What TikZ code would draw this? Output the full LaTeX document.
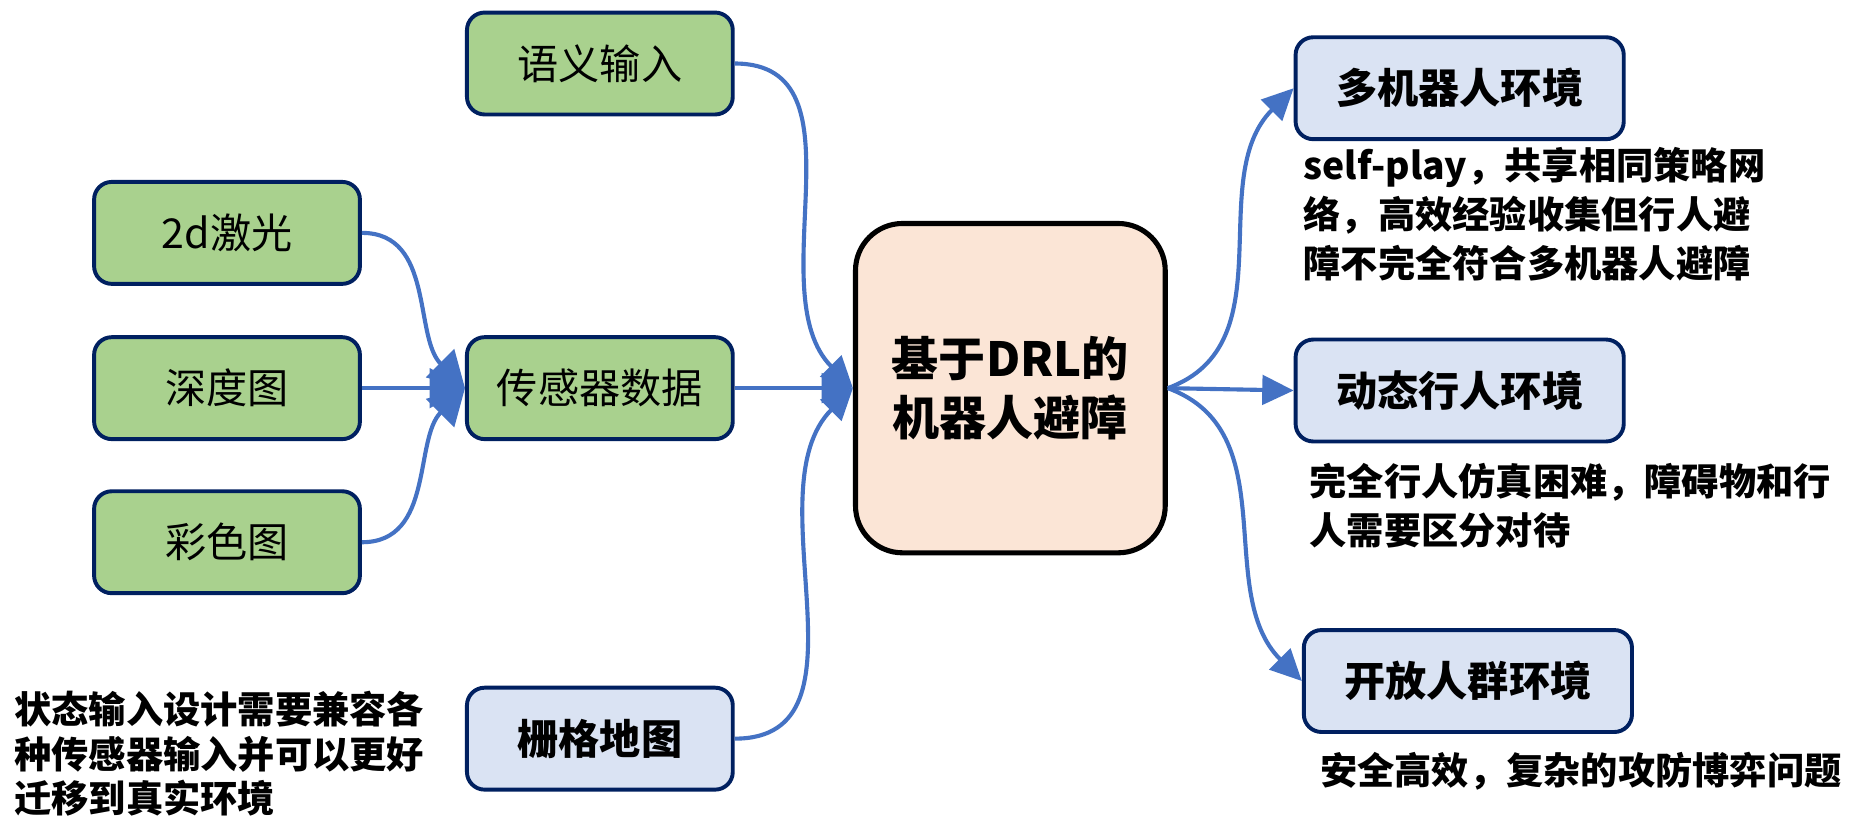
\documentclass[tikz,border=0pt]{standalone}
\usepackage{fontspec}
\setmainfont{Noto Sans CJK SC}
\usepackage{xcolor}
\usepackage{tikz}
\usetikzlibrary{arrows.meta}
\definecolor{bg}{HTML}{FFFFFF}
\definecolor{inbg}{HTML}{A9D18E}
\definecolor{envbg}{HTML}{DAE3F3}
\definecolor{corebg}{HTML}{FBE5D6}
\definecolor{navy}{HTML}{002060}
\definecolor{linkc}{HTML}{4472C4}
\definecolor{text}{HTML}{000000}
\tikzset{
  box/.style={draw=navy, line width=2pt, rounded corners=9pt, minimum width=135.6pt, minimum height=52pt, inner sep=0pt, text=text},
  inp/.style={box, fill=inbg, font=\fontsize{21}{24}\selectfont},
  env/.style={box, fill=envbg, font=\fontsize{21}{24}\selectfont\bfseries},
  wide/.style={minimum width=167.4pt},
  core/.style={draw=black, line width=2.6pt, rounded corners=24pt, fill=corebg, minimum width=158pt, minimum height=168pt, align=center, text=text, font=\fontsize{24}{30}\selectfont\bfseries},
  flow/.style={draw=linkc, line width=2.1pt, -{Triangle[length=16pt,width=15pt]}},
  flowb/.style={flow, -{Triangle[length=18pt,width=20pt]}},
  note/.style={text=text, font=\fontsize{19}{25}\selectfont\bfseries, align=left, inner sep=0pt, anchor=west},
}

\begin{document}
\begin{tikzpicture}[x=0.6pt, y=-0.6pt]
  \useasboundingbox[fill=bg] (0,0) rectangle (1572,693);

  % inputs
  \node[inp] (sem) at (510,54) {语义输入};
  \node[inp] (laser) at (193,198) {2d激光};
  \node[inp] (depth) at (193,330) {深度图};
  \node[inp] (rgb) at (193,461) {彩色图};
  \node[inp] (sense) at (510,330) {传感器数据};
  \node[env] (grid) at (510,628) {栅格地图};

  % centre
  \node[core] (drl) at (859,330) {基于DRL的\\机器人避障};

  % environments
  \node[env,wide] (multi) at (1241,75) {多机器人环境};
  \node[env,wide] (dyn) at (1241,332) {动态行人环境};
  \node[env,wide] (crowd) at (1248,579) {开放人群环境};

  % notes
  \node[note] (n1) at (1108,182) {self-play，共享相同策略网\\络，高效经验收集但行人避\\障不完全符合多机器人避障};
  \node[note] (n2) at (1113,430) {完全行人仿真困难，障碍物和行\\人需要区分对待};
  \node[note] (n3) at (1122,656) {安全高效，复杂的攻防博弈问题};
  \node[note, font=\fontsize{19}{22.6}\selectfont\bfseries] (n4) at (12,641) {状态输入设计需要兼容各\\种传感器输入并可以更好\\迁移到真实环境};

  % links
  \draw[flowb] (laser.east) to[out=0,in=135] (sense.west);
  \draw[flowb] (depth.east) -- (sense.west);
  \draw[flowb] (rgb.east) to[out=0,in=225] (sense.west);
  \draw[flow] (sem.east) to[out=0,in=135] (drl.west);
  \draw[flow] (sense.east) -- (drl.west);
  \draw[flow] (grid.east) to[out=0,in=225] (drl.west);
  \draw[flow] (drl.east) to[out=20,in=225] (multi.west);
  \draw[flow] (drl.east) -- (dyn.west);
  \draw[flow] (drl.east) to[out=-20,in=135] (crowd.west);
\end{tikzpicture}
\end{document}
